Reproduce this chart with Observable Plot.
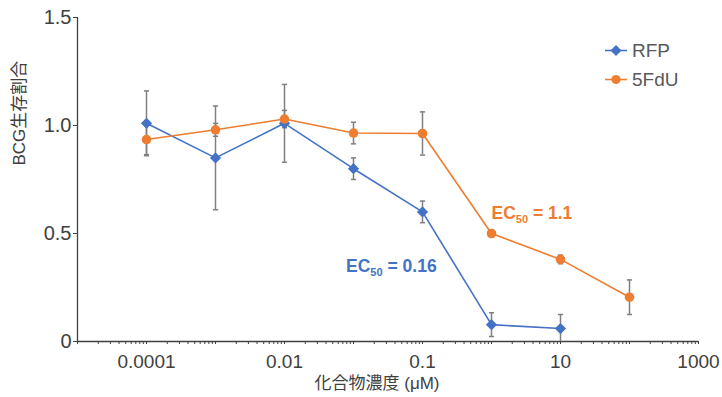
<!DOCTYPE html>
<html><head><meta charset="utf-8">
<script src="https://cdn.jsdelivr.net/npm/d3@7"></script>
<script src="https://cdn.jsdelivr.net/npm/@observablehq/plot@0.6"></script>
<style>
body{margin:0;background:#fff;}
#wrap{position:relative;width:722px;height:397px;font-family:"Liberation Sans",Arial,"Noto Sans CJK JP",sans-serif;}
.legend{position:absolute;left:605px;top:36px;font-size:19px;color:#595959;line-height:29px;}
.legend div{display:flex;align-items:center;height:29px;}
.legend svg{margin-right:3px;}
</style></head><body><div id="wrap"></div>
<script>
// ---- data ----
const concentrations = [0.0001, 0.001, 0.01, 0.1, 1, 10, 100, 1000];
const seriesNames = ["RFP", "5FdU"];
const seriesColors = ["#4472C4", "#ED7D31"];
const rfpMean = [1.01, 0.85, 1.01, 0.80, 0.60, 0.078, 0.06];
const rfpErr  = [0.15, 0.24, 0.18, 0.05, 0.05, 0.055, 0.065];
const fduMean = [0.935, 0.98, 1.03, 0.965, 0.963, 0.50, 0.38, 0.205];
const fduErr  = [0.07, 0.03, 0.04, 0.05, 0.10, 0.01, 0.02, 0.08];
const xTickValues = [1e-4, 1e-2, 1, 1e2, 1e4];
const xTickLabels = ["0.0001", "0.01", "0.1", "10", "1000"];
const yTickValues = [0, 0.5, 1, 1.5];
const yTickLabels = ["0", "0.5", "1.0", "1.5"];
const xTitle = "化合物濃度 (μM)";
const yTitle = "BCG生存割合";
const annotationText = ["EC50 = 1.1", "EC50 = 0.16"];
const annotationSeries = ["5FdU", "RFP"];
const annotationX = [10, 0.078];
const annotationY = [0.593, 0.347];

// ---- tables built from the arrays ----
const rows = [];
rfpMean.forEach((v, i) => rows.push({series: "RFP", x: concentrations[i], y: v, err: rfpErr[i]}));
fduMean.forEach((v, i) => rows.push({series: "5FdU", x: concentrations[i], y: v, err: fduErr[i]}));
const caps = [];
rows.forEach(d => {
  caps.push({x: d.x, y: d.y + d.err});
  if (d.y - d.err > 0) caps.push({x: d.x, y: d.y - d.err});
});
const minorTicks = [];
for (let e = -5; e <= 3; e++) for (let k = 1; k <= 9; k++) minorTicks.push(k * Math.pow(10, e));
minorTicks.push(1e4);
const annotations = annotationText.map((t, i) => ({text: t, series: annotationSeries[i], x: annotationX[i], y: annotationY[i]}));

const colorOf = s => seriesColors[seriesNames.indexOf(s)];
const capSymbol = {draw(ctx, size) { const r = Math.sqrt(size / Math.PI); ctx.moveTo(-r, 0); ctx.lineTo(r, 0); }};
const diamondSymbol = {draw(ctx, size) { const r = Math.sqrt(size / Math.PI); ctx.moveTo(0, -r); ctx.lineTo(r, 0); ctx.lineTo(0, r); ctx.lineTo(-r, 0); ctx.closePath(); }};

const font = '"Liberation Sans", Arial, "Noto Sans CJK JP", sans-serif';
const chart = Plot.plot({
  width: 722, height: 397,
  marginLeft: 77, marginRight: 24, marginTop: 17, marginBottom: 56,
  style: {fontFamily: font, fontSize: "20px", color: "#404040", background: "#fff"},
  x: {type: "log", domain: [1e-5, 1e4]},
  y: {domain: [0, 1.5]},
  color: {domain: seriesNames, range: seriesColors},
  marks: [
    Plot.axisX({ticks: minorTicks, tickSize: 3, tickFormat: () => "", label: null, stroke: "#404040"}),
    Plot.axisX({ticks: xTickValues, tickSize: 0, tickPadding: 13, fontSize: 19, tickFormat: d => xTickLabels[xTickValues.indexOf(d)], label: null, fill: "#404040"}),
    Plot.axisY({ticks: yTickValues, tickSize: 4, tickPadding: 2, fontSize: 20, tickFormat: d => yTickLabels[yTickValues.indexOf(d)], label: null, stroke: "#404040", fill: "#404040"}),
    Plot.ruleY([0], {stroke: "#404040", strokeWidth: 1.3}),
    Plot.ruleX([1e-5], {stroke: "#404040", strokeWidth: 1.3}),
    Plot.ruleX(rows, {x: "x", y1: d => Math.max(0, d.y - d.err), y2: d => d.y + d.err, stroke: "#808080", strokeWidth: 1.5}),
    Plot.dot(caps, {x: "x", y: "y", symbol: capSymbol, r: 2.6, stroke: "#808080", strokeWidth: 1.5}),
    Plot.line(rows, {x: "x", y: "y", z: "series", stroke: "series", strokeWidth: 1.6}),
    Plot.dot(rows.filter(d => d.series === "RFP"), {x: "x", y: "y", symbol: diamondSymbol, r: 5.6, fill: colorOf("RFP"), stroke: "none"}),
    Plot.dot(rows.filter(d => d.series === "5FdU"), {x: "x", y: "y", r: 4.8, fill: colorOf("5FdU"), stroke: "none"}),
    Plot.text(annotations, {x: "x", y: "y", text: "text", fill: d => colorOf(d.series), fontWeight: "bold", fontSize: 17.5, textAnchor: "start", className: "ec50"}),
    Plot.text([yTitle], {text: d => d, frameAnchor: "left", rotate: -90, dx: -58, dy: -14, fontSize: 17, fill: "#404040"}),
    Plot.text([xTitle], {text: d => d, frameAnchor: "bottom", dy: 47, dx: -11, fontSize: 17, fill: "#404040"})
  ]
});

// subscripts for EC50 labels
chart.querySelectorAll("text").forEach(t => {
  const s = t.textContent;
  const m = s.match(/^EC(50)(.*)$/);
  if (!m || t.querySelector("tspan.sub")) return;
  while (t.firstChild) t.removeChild(t.firstChild);
  const ns = "http://www.w3.org/2000/svg";
  const a = document.createElementNS(ns, "tspan"); a.textContent = "EC"; t.appendChild(a);
  const b = document.createElementNS(ns, "tspan"); b.setAttribute("class", "sub"); b.textContent = m[1];
  b.setAttribute("font-size", "11"); b.setAttribute("dy", "4"); t.appendChild(b);
  const c = document.createElementNS(ns, "tspan"); c.textContent = m[2]; c.setAttribute("dy", "-4"); t.appendChild(c);
});

const wrap = document.getElementById("wrap");
wrap.appendChild(chart);

// legend
const legend = document.createElement("div");
legend.className = "legend";
seriesNames.forEach((name, i) => {
  const row = document.createElement("div");
  const marker = i === 0
    ? `<path d="M11,6 L16.5,11.5 L11,17 L5.5,11.5Z" fill="${seriesColors[i]}"/>`
    : `<circle cx="11" cy="11.5" r="4.6" fill="${seriesColors[i]}"/>`;
  row.innerHTML = `<svg width="24" height="23"><line x1="0" x2="22" y1="11.5" y2="11.5" stroke="${seriesColors[i]}" stroke-width="1.6"/>${marker}</svg><span>${name}</span>`;
  legend.appendChild(row);
});
wrap.appendChild(legend);
</script>
</body></html>
